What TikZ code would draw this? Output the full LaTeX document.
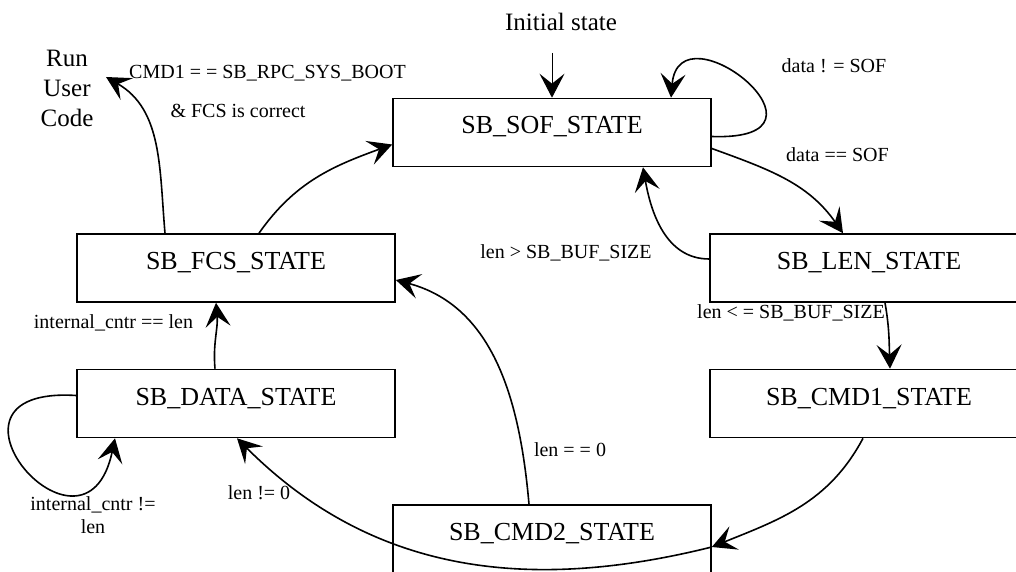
\documentclass[tikz,border=0pt]{standalone}
\usepackage{fontspec}
\setmainfont{Liberation Serif}
\usetikzlibrary{arrows.meta}
\tikzstyle{state} = [rectangle, draw=black, line width=1.6pt, minimum width=318pt, minimum height=68pt, text height=17pt, text depth=14pt, font=\fontsize{26}{30}\selectfont]
\tikzstyle{trans} = [line width=1.6pt, -{Stealth[length=24pt,width=25pt,inset=10pt]}]
\tikzstyle{entry} = [line width=1pt, -{Stealth[length=24pt,width=25pt,inset=10pt]}]
\tikzstyle{cond} = [font=\fontsize{20}{23}\selectfont, align=center, inner sep=0pt]
\tikzstyle{bigtext} = [font=\fontsize{25}{30}\selectfont, align=center, inner sep=0pt]

\begin{document}
\begin{tikzpicture}[x=1pt, y=1pt, node distance=135.5pt]
    \useasboundingbox (-236,-304) rectangle (780,268);

    \node (fcs) [state] {SB\_FCS\_STATE};
    \node (data) [state, below of=fcs] {SB\_DATA\_STATE};
    \node (len) [state, right of=fcs, xshift=497.5pt] {SB\_LEN\_STATE};
    \node (cmd1) [state, below of=len] {SB\_CMD1\_STATE};
    \node (sof) [state, above of=fcs, xshift=316pt] {SB\_SOF\_STATE};
    \node (cmd2) [state, below of=data, xshift=316pt] {SB\_CMD2\_STATE};

    \node (init) [bigtext] at (325,246) {Initial state};
    \coordinate (start) at (316,215);
    \node (run) [bigtext] at (-169,180) {Run\\User\\Code};

    \node (c1) [cond] at (31.5,195) {CMD1 = = SB\_RPC\_SYS\_BOOT};
    \node (c2) [cond] at (2,157) {\& FCS is correct};
    \node (c3) [cond] at (598,202) {data ! = SOF};
    \node (c4) [cond] at (601.5,113) {data == SOF};
    \node (c5) [cond] at (330,15) {len > SB\_BUF\_SIZE};
    \node (c6) [cond] at (555,-45) {len < = SB\_BUF\_SIZE};
    \node (c7) [cond] at (334,-182) {len = = 0};
    \node (c8) [cond] at (23,-225) {len != 0};
    \node (c9) [cond] at (-122.5,-55) {internal\_cntr == len};
    \node (c10) [cond] at (-143,-247.5) {internal\_cntr !=\\len};

    \draw [entry] (start) -- (sof.north);
    \draw [trans] ([yshift=-4pt]sof.east) .. controls +(140,-5) and +(8,95) .. ([xshift=119pt]sof.north);
    \draw [trans] ([yshift=-16pt]sof.east) to[out=-20,in=125] ([xshift=-26pt]len.north);
    \draw [trans] ([yshift=9pt]len.west) to[out=180,in=-80] ([xshift=91pt]sof.south);
    \draw [trans] ([xshift=16pt]len.south) to[out=-80,in=92] ([xshift=21pt]cmd1.north);
    \draw [trans] ([xshift=-6pt]cmd1.south) to[out=-118,in=22] ([yshift=-8pt]cmd2.east);
    \draw [trans] ([xshift=-23pt]cmd2.north) to[out=95,in=-15] ([yshift=-12pt]fcs.east);
    \draw [trans] ([yshift=-8pt]cmd2.east) to[out=194,in=-45] ([xshift=1pt]data.south);
    \draw [trans] ([yshift=8pt]data.west) .. controls +(-160,10) and +(-30,-143) .. ([xshift=-121pt]data.south);
    \draw [trans] ([xshift=-21pt]data.north) to[out=95,in=-85] ([xshift=-20pt]fcs.south);
    \draw [trans] ([xshift=23pt]fcs.north) to[out=55,in=200] ([yshift=-12pt]sof.west);
    \draw [trans] ([xshift=-71pt]fcs.north) to[out=95,in=-30] ([shift={(39pt,11pt)}]run.center);
\end{tikzpicture}
\end{document}
